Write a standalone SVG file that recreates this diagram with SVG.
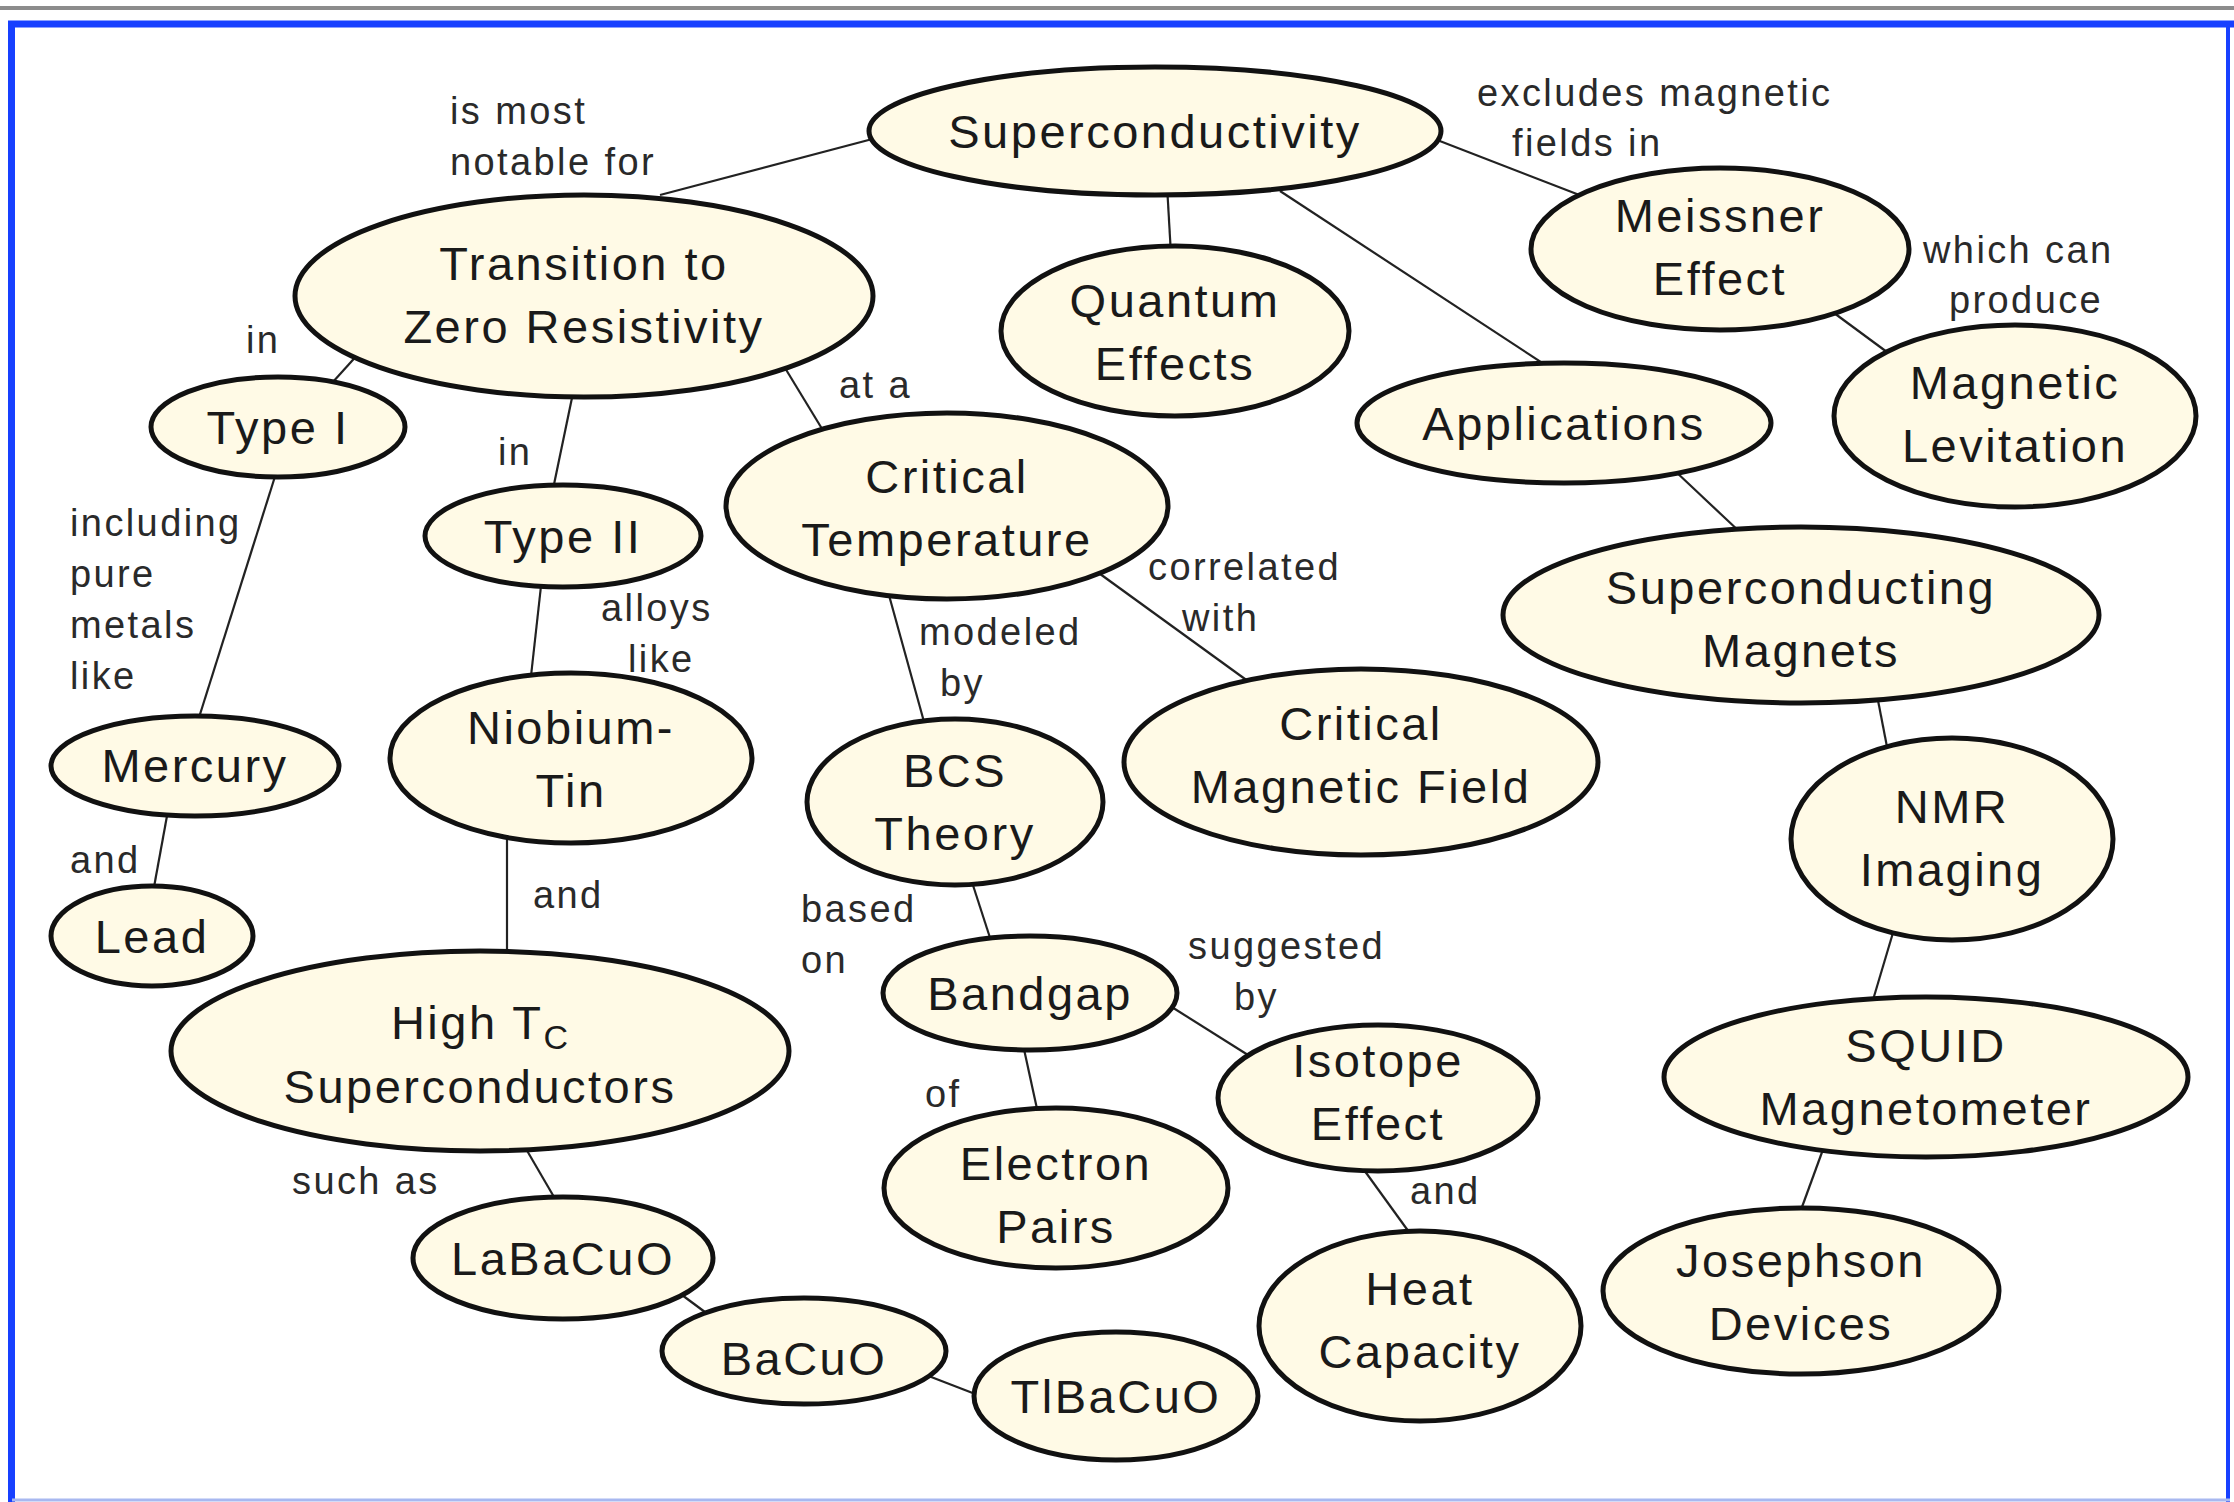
<svg xmlns="http://www.w3.org/2000/svg" width="2234" height="1502" viewBox="0 0 2234 1502">
<style>
.node ellipse{fill:#FFFAE6;stroke:#111;stroke-width:5}
.node text{font-family:"Liberation Sans",Arial,sans-serif;font-size:47px;letter-spacing:2.5px;fill:#1a1a1a;text-anchor:middle}
.lbl{font-family:"Liberation Sans",Arial,sans-serif;font-size:38px;letter-spacing:2.4px;fill:#2a2a2a}
#connectors line{stroke:#222;stroke-width:2.2}
</style>
<rect x="0" y="0" width="2234" height="1502" fill="#fff"/>
<g id="frame">
<line x1="0" y1="8" x2="2234" y2="8" stroke="#8c8c8c" stroke-width="4"/>
<line x1="8" y1="24" x2="2234" y2="24" stroke="#1740ff" stroke-width="7"/>
<line x1="11.5" y1="21" x2="11.5" y2="1502" stroke="#1740ff" stroke-width="7"/>
<line x1="2228" y1="22" x2="2228" y2="1502" stroke="#1740ff" stroke-width="4"/>
<line x1="12" y1="1500" x2="2230" y2="1500" stroke="#a8b8f0" stroke-width="3"/>
</g>
<g id="connectors">
<line x1="880" y1="137" x2="660" y2="195"/>
<line x1="1167" y1="185" x2="1171" y2="255"/>
<line x1="1280" y1="191" x2="1553" y2="370"/>
<line x1="1432" y1="138" x2="1582" y2="196"/>
<line x1="1830" y1="310" x2="1891" y2="355"/>
<line x1="1674" y1="470" x2="1742" y2="534"/>
<line x1="1876" y1="690" x2="1888" y2="752"/>
<line x1="1895" y1="926" x2="1870" y2="1010"/>
<line x1="1825" y1="1144" x2="1798" y2="1218"/>
<line x1="360" y1="352" x2="332" y2="383"/>
<line x1="573" y1="393" x2="552" y2="494"/>
<line x1="782" y1="363" x2="827" y2="437"/>
<line x1="278" y1="467" x2="196" y2="727"/>
<line x1="169" y1="805" x2="152" y2="898"/>
<line x1="542" y1="577" x2="530" y2="685"/>
<line x1="507" y1="831" x2="507" y2="962"/>
<line x1="522" y1="1142" x2="561" y2="1209"/>
<line x1="682" y1="1295" x2="713" y2="1318"/>
<line x1="926" y1="1375" x2="983" y2="1397"/>
<line x1="887" y1="588" x2="926" y2="729"/>
<line x1="1096" y1="571" x2="1256" y2="687"/>
<line x1="970" y1="876" x2="993" y2="947"/>
<line x1="1022" y1="1040" x2="1039" y2="1118"/>
<line x1="1167" y1="1004" x2="1248" y2="1055"/>
<line x1="1359" y1="1163" x2="1414" y2="1239"/>
</g>
<g id="labels">
<text class="lbl" x="450" y="124">is most</text>
<text class="lbl" x="450" y="175">notable for</text>
<text class="lbl" x="1477" y="106">excludes magnetic</text>
<text class="lbl" x="1512" y="156">fields in</text>
<text class="lbl" x="1923" y="263">which can</text>
<text class="lbl" x="1949" y="313">produce</text>
<text class="lbl" x="246" y="353">in</text>
<text class="lbl" x="498" y="465">in</text>
<text class="lbl" x="839" y="398">at a</text>
<text class="lbl" x="70" y="536">including</text>
<text class="lbl" x="70" y="587">pure</text>
<text class="lbl" x="70" y="638">metals</text>
<text class="lbl" x="70" y="689">like</text>
<text class="lbl" x="601" y="621">alloys</text>
<text class="lbl" x="628" y="672">like</text>
<text class="lbl" x="70" y="873">and</text>
<text class="lbl" x="533" y="908">and</text>
<text class="lbl" x="919" y="645">modeled</text>
<text class="lbl" x="940" y="696">by</text>
<text class="lbl" x="1148" y="580">correlated</text>
<text class="lbl" x="1182" y="631">with</text>
<text class="lbl" x="801" y="922">based</text>
<text class="lbl" x="801" y="973">on</text>
<text class="lbl" x="1188" y="959">suggested</text>
<text class="lbl" x="1234" y="1010">by</text>
<text class="lbl" x="925" y="1107">of</text>
<text class="lbl" x="1410" y="1204">and</text>
<text class="lbl" x="292" y="1194">such as</text>
</g>
<g id="n-superconductivity" class="node"><ellipse cx="1155" cy="131" rx="286" ry="64"/><text x="1155" y="148">Superconductivity</text></g>
<g id="n-transition" class="node"><ellipse cx="584" cy="296" rx="289" ry="101"/><text x="584" y="280">Transition to</text><text x="584" y="343">Zero Resistivity</text></g>
<g id="n-quantum" class="node"><ellipse cx="1175" cy="331" rx="174" ry="85"/><text x="1175" y="317">Quantum</text><text x="1175" y="380">Effects</text></g>
<g id="n-meissner" class="node"><ellipse cx="1720" cy="249" rx="189" ry="81"/><text x="1720" y="232">Meissner</text><text x="1720" y="295">Effect</text></g>
<g id="n-levitation" class="node"><ellipse cx="2015" cy="416" rx="181" ry="91"/><text x="2015" y="399">Magnetic</text><text x="2015" y="462">Levitation</text></g>
<g id="n-applications" class="node"><ellipse cx="1564" cy="423" rx="207" ry="60"/><text x="1564" y="440">Applications</text></g>
<g id="n-type1" class="node"><ellipse cx="278" cy="427" rx="127" ry="50"/><text x="278" y="444">Type I</text></g>
<g id="n-type2" class="node"><ellipse cx="563" cy="536" rx="138" ry="51"/><text x="563" y="553">Type II</text></g>
<g id="n-crittemp" class="node"><ellipse cx="947" cy="506" rx="221" ry="93"/><text x="947" y="493">Critical</text><text x="947" y="556">Temperature</text></g>
<g id="n-scmagnets" class="node"><ellipse cx="1801" cy="615" rx="298" ry="88"/><text x="1801" y="604">Superconducting</text><text x="1801" y="667">Magnets</text></g>
<g id="n-niobium" class="node"><ellipse cx="571" cy="758" rx="181" ry="85"/><text x="571" y="744">Niobium-</text><text x="571" y="807">Tin</text></g>
<g id="n-mercury" class="node"><ellipse cx="195" cy="766" rx="144" ry="50"/><text x="195" y="782">Mercury</text></g>
<g id="n-bcs" class="node"><ellipse cx="955" cy="802" rx="148" ry="83"/><text x="955" y="787">BCS</text><text x="955" y="850">Theory</text></g>
<g id="n-critfield" class="node"><ellipse cx="1361" cy="762" rx="237" ry="93"/><text x="1361" y="740">Critical</text><text x="1361" y="803">Magnetic Field</text></g>
<g id="n-nmr" class="node"><ellipse cx="1952" cy="839" rx="161" ry="101"/><text x="1952" y="823">NMR</text><text x="1952" y="886">Imaging</text></g>
<g id="n-lead" class="node"><ellipse cx="152" cy="936" rx="101" ry="50"/><text x="152" y="953">Lead</text></g>
<g id="n-hightc" class="node"><ellipse cx="480" cy="1051" rx="309" ry="100"/><text x="480" y="1039">High T<tspan font-size="34" dy="10" letter-spacing="1">C</tspan></text><text x="480" y="1103">Superconductors</text></g>
<g id="n-bandgap" class="node"><ellipse cx="1030" cy="993" rx="147" ry="57"/><text x="1030" y="1010">Bandgap</text></g>
<g id="n-isotope" class="node"><ellipse cx="1378" cy="1098" rx="160" ry="73"/><text x="1378" y="1077">Isotope</text><text x="1378" y="1140">Effect</text></g>
<g id="n-squid" class="node"><ellipse cx="1926" cy="1077" rx="262" ry="80"/><text x="1926" y="1062">SQUID</text><text x="1926" y="1125">Magnetometer</text></g>
<g id="n-electron" class="node"><ellipse cx="1056" cy="1188" rx="172" ry="80"/><text x="1056" y="1180">Electron</text><text x="1056" y="1243">Pairs</text></g>
<g id="n-heat" class="node"><ellipse cx="1420" cy="1326" rx="161" ry="95"/><text x="1420" y="1305">Heat</text><text x="1420" y="1368">Capacity</text></g>
<g id="n-labacuo" class="node"><ellipse cx="563" cy="1258" rx="150" ry="61"/><text x="563" y="1275">LaBaCuO</text></g>
<g id="n-josephson" class="node"><ellipse cx="1801" cy="1291" rx="198" ry="83"/><text x="1801" y="1277">Josephson</text><text x="1801" y="1340">Devices</text></g>
<g id="n-bacuo" class="node"><ellipse cx="804" cy="1351" rx="142" ry="53"/><text x="804" y="1375">BaCuO</text></g>
<g id="n-tlbacuo" class="node"><ellipse cx="1116" cy="1396" rx="142" ry="64"/><text x="1116" y="1413">TlBaCuO</text></g>
</svg>
